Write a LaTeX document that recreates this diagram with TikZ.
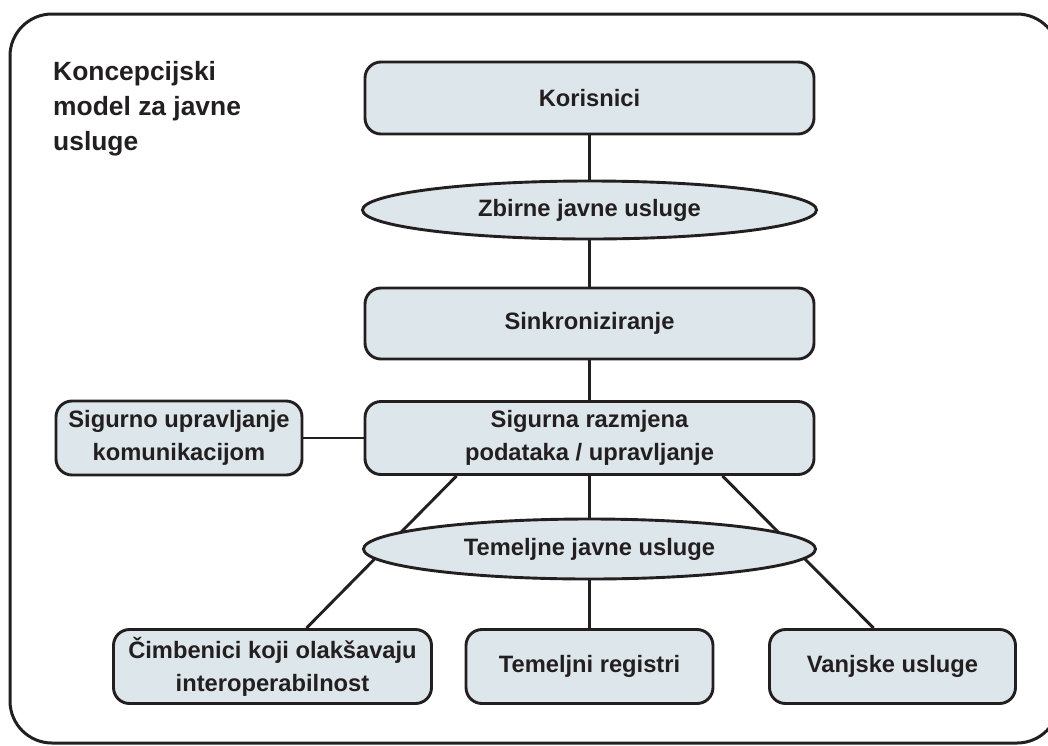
\documentclass[tikz,border=0pt]{standalone}
\usepackage{fontspec}
\setmainfont{Liberation Sans}
\usetikzlibrary{shapes.geometric,backgrounds}
\definecolor{uslugaPlava}{RGB}{221,230,234}
\definecolor{tamna}{RGB}{35,31,32}

\begin{document}
\begin{tikzpicture}[x=1pt,y=-1pt,
    blok/.style={draw=tamna, fill=uslugaPlava, line width=2.9pt, rounded corners=16pt,
                 inner sep=0pt, align=center, text=tamna,
                 font=\bfseries\fontsize{23.7}{33}\selectfont},
    elipsa/.style={ellipse, draw=tamna, fill=uslugaPlava, line width=2.9pt,
                   inner sep=0pt, text=tamna, font=\bfseries\fontsize{23.7}{33}\selectfont},
    veza/.style={draw=tamna, line width=2.9pt}]
    \clip (0,0) rectangle (1048,745);
    % okvir
    \draw[tamna, line width=3pt, rounded corners=42pt] (10,14) rectangle (1059,743);

    \node[anchor=north west, inner sep=0pt, align=left, text=tamna,
          font=\bfseries\fontsize{26.4}{35}\selectfont] (naslov) at (53,61)
          {Koncepcijski\\model za javne\\usluge};

    \node[blok, minimum width=449pt, minimum height=72pt] (kor) at (589.5,98) {Korisnici};
    \node[elipsa, minimum width=454pt, minimum height=58pt] (zbirne) at (589.5,210) {Zbirne javne usluge};
    \node[blok, minimum width=449pt, minimum height=71pt] (sinkr) at (589.5,323.5) {Sinkroniziranje};
    \node[blok, minimum width=449pt, minimum height=73pt] (sigraz) at (589.5,438) {Sigurna razmjena\\podataka / upravljanje};
    \node[blok, minimum width=246pt, minimum height=74pt] (sigupr) at (179,438) {Sigurno upravljanje\\komunikacijom};
    \node[elipsa, minimum width=452pt, minimum height=60pt] (temelj) at (589.5,549) {Temeljne javne usluge};
    \node[blok, minimum width=318pt, minimum height=74pt] (cimb) at (272.5,666.5) {Čimbenici koji olakšavaju\\interoperabilnost};
    \node[blok, minimum width=247pt, minimum height=74pt] (regs) at (589.5,666.5) {Temeljni registri};
    \node[blok, minimum width=246pt, minimum height=74pt] (vanj) at (892.5,666.5) {Vanjske usluge};

    \begin{scope}[on background layer]
        \draw[veza] (kor.south) -- (zbirne.north);
        \draw[veza] (zbirne.south) -- (sinkr.north);
        \draw[veza] (sinkr.south) -- (sigraz.north);
        \draw[veza] (sigupr.east) -- (sigraz.west);
        \draw[veza] (sigraz.south) -- (temelj.north);
        \draw[veza] (temelj.south) -- (regs.north);
        \draw[veza] ([xshift=-133pt]sigraz.south) -- ([xshift=34pt]cimb.north);
        \draw[veza] ([xshift=133pt]sigraz.south) -- ([xshift=-19pt]vanj.north);
    \end{scope}
\end{tikzpicture}
\end{document}
